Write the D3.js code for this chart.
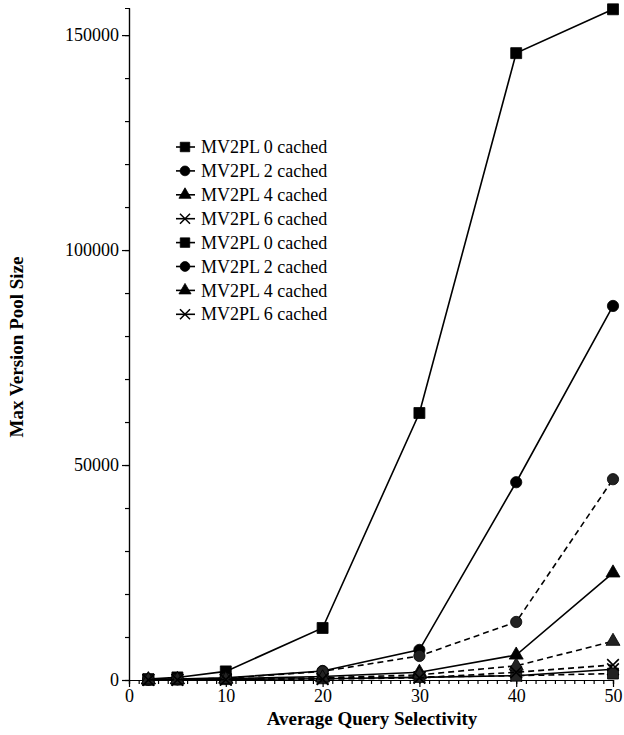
<!DOCTYPE html>
<html>
<head>
<meta charset="utf-8">
<script src="https://cdn.jsdelivr.net/npm/d3@7"></script>
<style>
	body { margin: 0; background: #fff; }
	svg { display: block; }
	.axis path, .axis line { stroke: #000; stroke-width: 1.2; }
</style>
</head>
<body>
<svg id="chart"></svg>
<script>
	const selectivity = [2, 5, 10, 20, 30, 40, 50]
	const labels = ["MV2PL 0 cached", "MV2PL 2 cached", "MV2PL 4 cached", "MV2PL 6 cached",
		"MV2PL 0 cached", "MV2PL 2 cached", "MV2PL 4 cached", "MV2PL 6 cached"]
	const solid0 = [200, 600, 2000, 12100, 62100, 145800, 156000]
	const solid2 = [100, 200, 500, 2100, 7000, 46000, 87000]
	const solid4 = [50, 100, 300, 800, 1800, 5800, 24900]
	const solid6 = [20, 50, 100, 300, 600, 1000, 2500]
	const dashed0 = [50, 100, 200, 400, 700, 1000, 1500]
	const dashed2 = [80, 150, 400, 2000, 5600, 13500, 46700]
	const dashed4 = [30, 60, 150, 500, 1200, 3300, 9000]
	const dashed6 = [20, 40, 80, 200, 500, 1800, 3500]
	const xTicks = [0, 10, 20, 30, 40, 50]
	const yTicks = [0, 50000, 100000, 150000]

	const serif = "'Liberation Serif', 'Times New Roman', serif"

	const series = [solid0, solid2, solid4, solid6, dashed0, dashed2, dashed4, dashed6]
	const shapes = [d3.symbolSquare, d3.symbolCircle, d3.symbolTriangle, d3.symbolX,
		d3.symbolSquare, d3.symbolCircle, d3.symbolTriangle, d3.symbolX]
	const sizes = [120, 100, 85, 90, 120, 100, 85, 90]

	const svg = d3.select("#chart")
		.attr("width", 624)
		.attr("height", 735)

	const x = d3.scaleLinear().domain([0, 50]).range([129, 613])
	const y = d3.scaleLinear().domain([0, 156300]).range([680, 8])

	function styleAxis(g) {
		g.attr("font-family", serif).attr("font-size", 18)
		g.selectAll("text").attr("fill", "#000")
	}

	// minor ticks first, then the labelled ones
	svg.append("g")
		.attr("class", "axis")
		.attr("transform", "translate(0,680)")
		.call(d3.axisBottom(x).tickValues(d3.range(0, 51, 1)).tickSize(4).tickFormat(""))
	svg.append("g")
		.attr("class", "axis")
		.attr("transform", "translate(0,680)")
		.call(d3.axisBottom(x).tickValues(xTicks).tickSize(7).tickPadding(2).tickSizeOuter(0))
		.call(styleAxis)

	svg.append("g")
		.attr("class", "axis")
		.attr("transform", "translate(129,0)")
		.call(d3.axisLeft(y).tickValues(d3.range(0, 156000, 10000)).tickSize(4).tickFormat(""))
	svg.append("g")
		.attr("class", "axis")
		.attr("transform", "translate(129,0)")
		.call(d3.axisLeft(y).tickValues(yTicks).tickSize(7).tickPadding(3).tickSizeOuter(0).tickFormat(d3.format("d")))
		.call(styleAxis)

	svg.append("text")
		.attr("x", 372)
		.attr("y", 725)
		.attr("font-family", serif)
		.attr("font-size", 19)
		.attr("font-weight", "bold")
		.style("text-anchor", "middle")
		.text("Average Query Selectivity")

	svg.append("text")
		.attr("transform", "translate(23,347) rotate(-90)")
		.attr("font-family", serif)
		.attr("font-size", 19)
		.attr("font-weight", "bold")
		.style("text-anchor", "middle")
		.text("Max Version Pool Size")

	const line = d3.line()
		.x(function (d, i) { return x(selectivity[i]) })
		.y(function (d) { return y(d) })

	const plot = svg.append("g")

	series.forEach(function (values, k) {
		const dashed = k >= 4
		plot.append("path")
			.attr("d", line(values))
			.attr("fill", "none")
			.attr("stroke", "#000")
			.attr("stroke-width", 1.6)
			.attr("stroke-dasharray", dashed ? "6,4" : null)

		plot.selectAll(null)
			.data(values)
			.enter()
			.append("path")
			.attr("transform", function (d, i) { return "translate(" + x(selectivity[i]) + "," + y(d) + ")" })
			.attr("d", d3.symbol().type(shapes[k]).size(sizes[k]))
			.attr("fill", shapes[k] === d3.symbolX ? "none" : (dashed ? "#222" : "#000"))
			.attr("stroke", "#000")
			.attr("stroke-width", shapes[k] === d3.symbolX ? 1.6 : 0.8)
	})

	// legend
	const legend = svg.append("g")
	labels.forEach(function (name, k) {
		const ly = 147 + k * 23.9
		legend.append("line")
			.attr("x1", 176).attr("x2", 195)
			.attr("y1", ly).attr("y2", ly)
			.attr("stroke", "#000").attr("stroke-width", 1.6)
		legend.append("path")
			.attr("transform", "translate(185," + ly + ")")
			.attr("d", d3.symbol().type(shapes[k]).size(sizes[k] * 0.75))
			.attr("fill", shapes[k] === d3.symbolX ? "none" : "#000")
			.attr("stroke", "#000")
			.attr("stroke-width", shapes[k] === d3.symbolX ? 1.5 : 0.8)
		legend.append("text")
			.attr("x", 201)
			.attr("y", ly)
			.attr("dy", "0.34em")
			.attr("font-family", serif)
			.attr("font-size", 18)
			.attr("fill", "#000")
			.text(name)
	})
</script>
</body>
</html>
